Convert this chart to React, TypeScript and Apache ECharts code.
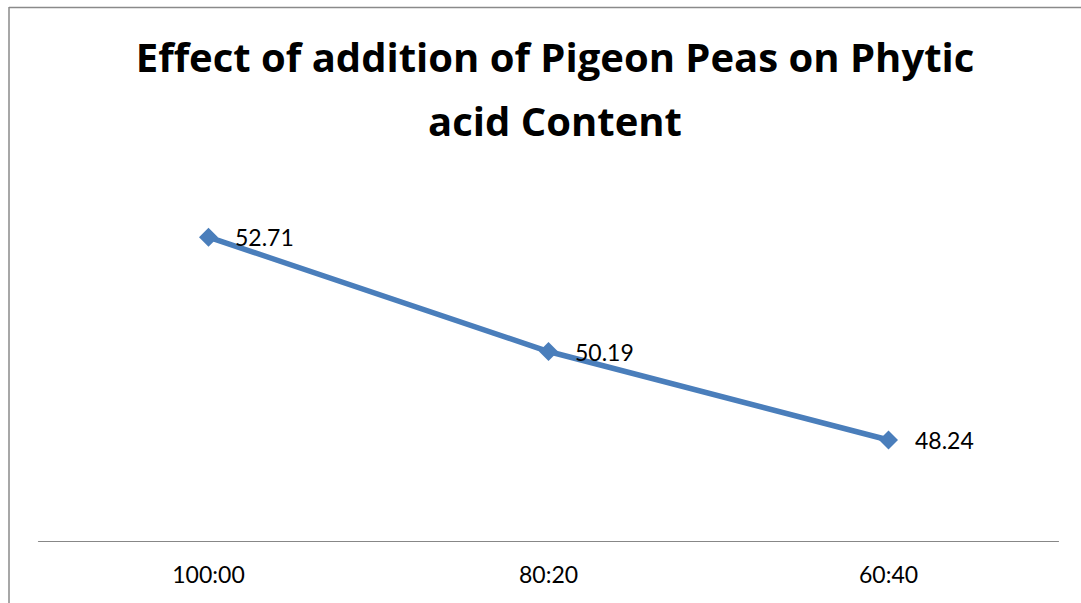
import React, { useEffect, useRef } from "react";
import * as echarts from "echarts";

const categories = ["100:00", "80:20", "60:40"];
const phyticValues = [52.71, 50.19, 48.24];
const titleLines = ["Effect of addition of Pigeon Peas on Phytic", "acid Content"];

export default function App() {
  const ref = useRef<HTMLDivElement>(null);
  useEffect(() => {
    if (!ref.current) return;
    const chart = echarts.init(ref.current, null, { renderer: "svg" });
    chart.setOption({
      animation: false,
      backgroundColor: "#ffffff",
      title: {
        text: titleLines.join("\n"),
        left: 550,
        top: 19,
        textAlign: "center",
        textStyle: {
          fontFamily: "Open Sans",
          fontWeight: "bold",
          fontSize: 40,
          lineHeight: 64,
          color: "#000000",
        },
      },
      graphic: [
        {
          type: "line",
          shape: { x1: 9, y1: 7.5, x2: 1081, y2: 7.5 },
          style: { stroke: "#8a8a8a", lineWidth: 1.5 },
        },
        {
          type: "line",
          shape: { x1: 9, y1: 7, x2: 9, y2: 603 },
          style: { stroke: "#8a8a8a", lineWidth: 1.5 },
        },
      ],
      grid: { left: 38.5, right: 22.5, top: 224, bottom: 61.3 },
      xAxis: {
        type: "category",
        data: categories,
        boundaryGap: true,
        axisLine: { show: true, lineStyle: { color: "#878787", width: 1.2 } },
        axisTick: { show: false },
        axisLabel: {
          fontFamily: "Lato",
          fontSize: 23,
          color: "#000000",
          margin: 21,
        },
        splitLine: { show: false },
      },
      yAxis: {
        type: "value",
        min: 46,
        max: 53,
        show: false,
        splitLine: { show: false },
      },
      series: [
        {
          type: "line",
          data: phyticValues,
          symbol: "diamond",
          symbolSize: 19,
          lineStyle: { color: "#4A7EBB", width: 5.5 },
          itemStyle: { color: "#4A7EBB" },
          label: {
            show: true,
            position: "right",
            distance: 17,
            fontFamily: "Lato",
            fontSize: 23,
            color: "#000000",
            formatter: (p: any) => p.value.toFixed(2),
          },
        },
      ],
    });
    return () => chart.dispose();
  }, []);
  return (
    <div
      ref={ref}
      style={{ position: "absolute", left: 0, top: 0, width: 1081, height: 603 }}
    />
  );
}
